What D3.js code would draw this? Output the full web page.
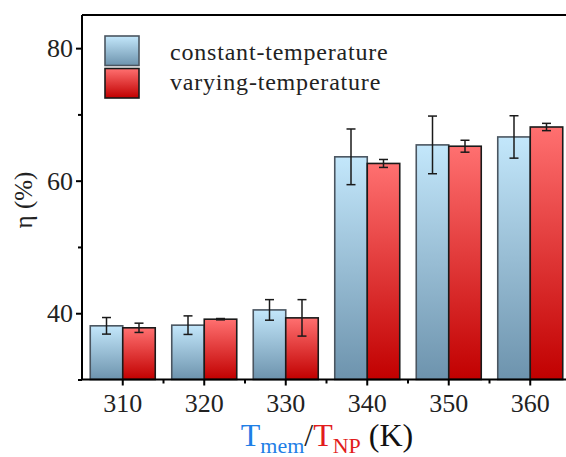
<!DOCTYPE html>
<html><head><meta charset="utf-8">
<script src="https://cdn.jsdelivr.net/npm/d3@7"></script>
<style>body{margin:0;background:#fff;}svg{display:block;}</style>
</head><body>
<svg id="chart" width="566" height="457"></svg>
<script>
const categories = ["310","320","330","340","350","360"];
const seriesNames = ["constant-temperature","varying-temperature"];
const constantVals = [38.1, 38.2, 40.5, 63.6, 65.4, 66.6];
const constantErr  = [1.25, 1.4, 1.55, 4.2, 4.35, 3.2];
const varyingVals  = [37.8, 39.1, 39.3, 62.6, 65.2, 68.1];
const varyingErr   = [0.7, 0.1, 2.75, 0.6, 0.9, 0.55];
const yMajorTicks = [40, 60, 80];
const yMinorTicks = [30, 50, 70];

const svg = d3.select("#chart");
const L = 82, R = 571, T = 15, B = 379.5;
const font = "Liberation Serif";

const x0 = d3.scaleBand().domain(categories).range([L, R]).padding(0);
const x1 = d3.scaleBand().domain(seriesNames).range([0, x0.bandwidth()]).paddingInner(0).paddingOuter(0.254);
const y = d3.scaleLinear().domain([30, 85]).range([B, T]);

const defs = svg.append("defs");
function grad(id, top, bot){
  const g = defs.append("linearGradient").attr("id", id).attr("x1",0).attr("y1",0).attr("x2",0).attr("y2",1);
  g.append("stop").attr("offset","0%").attr("stop-color", top);
  g.append("stop").attr("offset","100%").attr("stop-color", bot);
}
grad("gBlue", "#c3e7fb", "#6d93ad");
grad("gRed", "#ff7070", "#c10000");
const fills = {"constant-temperature":"url(#gBlue)","varying-temperature":"url(#gRed)"};
const strokes = {"constant-temperature":"#4a5560","varying-temperature":"#1a1a1a"};

const rows = categories.map((c,i)=>({cat:c, items:[
  {s:seriesNames[0], v:constantVals[i], e:constantErr[i]},
  {s:seriesNames[1], v:varyingVals[i], e:varyingErr[i]}
]}));

const g = svg.append("g");
const grp = g.selectAll("g.cat").data(rows).join("g").attr("transform", d=>`translate(${x0(d.cat)},0)`);
grp.selectAll("rect").data(d=>d.items).join("rect")
  .attr("x", d=>x1(d.s)).attr("width", x1.bandwidth())
  .attr("y", d=>y(d.v)).attr("height", d=>y(30)-y(d.v))
  .attr("fill", d=>fills[d.s]).attr("stroke", d=>strokes[d.s]).attr("stroke-width", 1.6);

const eb = grp.selectAll("g.eb").data(d=>d.items).join("g").attr("class","eb");
const cx = d=>x1(d.s)+x1.bandwidth()/2;
eb.append("line").attr("x1",cx).attr("x2",cx).attr("y1",d=>y(d.v+d.e)).attr("y2",d=>y(d.v-d.e))
  .attr("stroke","#1a1a1a").attr("stroke-width",1.5);
eb.append("line").attr("x1",d=>cx(d)-4.5).attr("x2",d=>cx(d)+4.5).attr("y1",d=>y(d.v+d.e)).attr("y2",d=>y(d.v+d.e))
  .attr("stroke","#1a1a1a").attr("stroke-width",1.5);
eb.append("line").attr("x1",d=>cx(d)-4.5).attr("x2",d=>cx(d)+4.5).attr("y1",d=>y(d.v-d.e)).attr("y2",d=>y(d.v-d.e))
  .attr("stroke","#1a1a1a").attr("stroke-width",1.5);

svg.append("line").attr("x1",L).attr("x2",R).attr("y1",T).attr("y2",T).attr("stroke","#000").attr("stroke-width",2);
svg.append("line").attr("x1",R).attr("x2",R).attr("y1",T).attr("y2",B).attr("stroke","#000").attr("stroke-width",2);

const yAxis = svg.append("g").attr("transform",`translate(${L},0)`)
  .call(d3.axisLeft(y).tickValues(yMajorTicks).tickSize(6).tickPadding(3).tickFormat(d3.format("d")));
yAxis.attr("font-family", font).attr("font-size", 26);
yAxis.select(".domain").attr("stroke","#000").attr("stroke-width",2).attr("d",`M0,${T}V${B}`);
yAxis.selectAll(".tick line").attr("stroke","#000").attr("stroke-width",2);
yAxis.selectAll(".tick text").attr("fill","#222");
svg.append("g").attr("transform",`translate(${L},0)`)
  .call(d3.axisLeft(y).tickValues(yMinorTicks).tickSize(4).tickFormat(""))
  .call(a=>{a.select(".domain").remove(); a.selectAll(".tick line").attr("stroke","#000").attr("stroke-width",2);});

const xAxis = svg.append("g").attr("transform",`translate(0,${B})`)
  .call(d3.axisBottom(x0).tickSize(6).tickPadding(8));
xAxis.attr("font-family", font).attr("font-size", 26);
xAxis.select(".domain").attr("stroke","#000").attr("stroke-width",2).attr("d",`M${L},0H${R}`);
xAxis.selectAll(".tick line").attr("stroke","#000").attr("stroke-width",2);
xAxis.selectAll(".tick text").attr("fill","#222");
const bounds = categories.slice(1).map(c=>x0(c));
svg.append("g").selectAll("line").data(bounds).join("line")
  .attr("x1",d=>d).attr("x2",d=>d).attr("y1",B).attr("y2",B+4).attr("stroke","#000").attr("stroke-width",2);

const leg = svg.append("g");
seriesNames.forEach((s,i)=>{
  leg.append("rect").attr("x",105).attr("y",36+i*32.5).attr("width",34).attr("height",29.5)
    .attr("fill",fills[s]).attr("stroke",strokes[s]).attr("stroke-width",1.6);
  leg.append("text").attr("x",170).attr("y",60+i*29.5).attr("font-family",font).attr("font-size",24)
    .attr("letter-spacing",0.8).attr("fill","#222").text(s);
});

svg.append("text").attr("transform","translate(32,200) rotate(-90)").attr("text-anchor","middle")
  .attr("font-family",font).attr("font-size",25).attr("fill","#222").text("η (%)");

const xl = svg.append("text").attr("x",327).attr("y",446).attr("text-anchor","middle")
  .attr("font-family",font).attr("font-size",32);
xl.append("tspan").attr("fill","#1f7fe6").text("T");
xl.append("tspan").attr("fill","#1f7fe6").attr("font-size",22).attr("dy",7).text("mem");
xl.append("tspan").attr("fill","#222").attr("dy",-7).text("/");
xl.append("tspan").attr("fill","#e21c1c").text("T");
xl.append("tspan").attr("fill","#e21c1c").attr("font-size",22).attr("dy",7).text("NP");
xl.append("tspan").attr("fill","#111").attr("dy",-7).text(" (K)");
</script>
</body></html>
